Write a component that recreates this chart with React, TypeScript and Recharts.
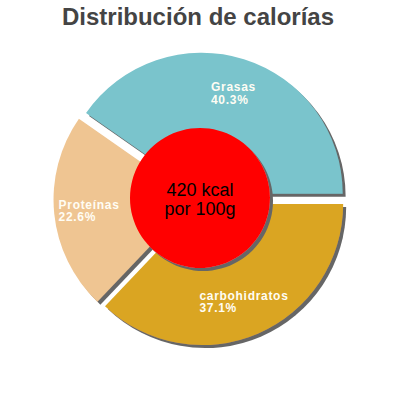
import React from "react"
import { PieChart, Pie, Cell } from "recharts"

// calorie split per 100 g
const categories = ["Grasas", "Proteínas", "carbohidratos"]
const shares = [40.3, 22.6, 37.1]
const energyKcal = [420]
const energyLines = ["420 kcal", "por 100g"]

const colors = ["#7ac4cc", "#efc592", "#daa520"]
const FONT = '"Liberation Sans", Arial, Helvetica, sans-serif'

const CX = 200
const CY = 199
const R = 141
const EXPLODE = 5.5
const RAD = Math.PI / 180
const LS = 0.7

const pieData = categories.map((name, i) => ({ name, value: shares[i] }))
const total = shares.reduce((a, b) => a + b, 0)
const midAngles = shares.map(
  (v, i) => ((shares.slice(0, i).reduce((a, b) => a + b, 0) + v / 2) / total) * 360
)

let ctx: CanvasRenderingContext2D | null = null
function textWidth(s: string) {
  if (!ctx) ctx = document.createElement("canvas").getContext("2d")
  if (!ctx) return s.length * 7
  ctx.font = `bold 12px ${FONT}`
  return ctx.measureText(s).width + s.length * LS
}

const labelStyle = {
  fill: "#fffdf4",
  fontSize: 12,
  fontWeight: "bold",
  fontFamily: FONT,
  letterSpacing: LS,
  textAnchor: "start",
} as const

const sliceLabel = (j: number) => (props: any) => {
  if (props.index !== j) return null
  const { cx, cy, midAngle, name, value } = props
  const px = cx + 106 * Math.cos(-midAngle * RAD)
  const py = cy + 106 * Math.sin(-midAngle * RAD)
  const pct = `${value.toFixed(1)}%`
  const w = Math.max(textWidth(name), textWidth(pct))
  const x = px - w / 2
  return (
    <g>
      <text x={x} y={py - 1.5} {...labelStyle}>{name}</text>
      <text x={x} y={py + 11} {...labelStyle}>{pct}</text>
    </g>
  )
}

const centerLabel = (props: any) => (
  <g>
    <text x={props.cx} y={props.cy - 2} textAnchor="middle" fontSize={18} fontFamily={FONT} fill="#000">
      {energyLines[0]}
    </text>
    <text x={props.cx} y={props.cy + 17} textAnchor="middle" fontSize={18} fontFamily={FONT} fill="#000">
      {energyLines[1]}
    </text>
  </g>
)

export default function App() {
  return (
    <div style={{ position: "fixed", left: 0, top: 0, width: 400, height: 400, background: "#fff" }}>
      <PieChart width={400} height={400} margin={{ top: 0, right: 0, bottom: 0, left: 0 }}>
        <defs>
          <filter id="sh" x="-20%" y="-20%" width="140%" height="140%">
            <feDropShadow dx="3" dy="3" stdDeviation="0" floodColor="#666" floodOpacity="1" />
          </filter>
        </defs>
        <text x={198} y={25} textAnchor="middle" fontSize={24} fontWeight="bold" fill="#444" fontFamily={FONT}>
          Distribución de calorías
        </text>
        {categories.map((c, j) => (
          <Pie
            key={c}
            data={pieData}
            dataKey="value"
            nameKey="name"
            cx={CX + EXPLODE * Math.cos(midAngles[j] * RAD)}
            cy={CY - EXPLODE * Math.sin(midAngles[j] * RAD)}
            innerRadius={0}
            outerRadius={R}
            stroke="none"
            label={sliceLabel(j)}
            labelLine={false}
            isAnimationActive={false}
          >
            {pieData.map((d, i) => (
              <Cell
                key={d.name}
                fill={i === j ? colors[i] : "none"}
                filter={i === j ? "url(#sh)" : undefined}
              />
            ))}
          </Pie>
        ))}
        <Pie
          data={[{ name: "energia", value: energyKcal[0] }]}
          dataKey="value"
          cx={CX}
          cy={CY - 1}
          outerRadius={70}
          stroke="none"
          label={centerLabel}
          labelLine={false}
          isAnimationActive={false}
        >
          <Cell fill="#ff0000" filter="url(#sh)" />
        </Pie>
      </PieChart>
    </div>
  )
}
